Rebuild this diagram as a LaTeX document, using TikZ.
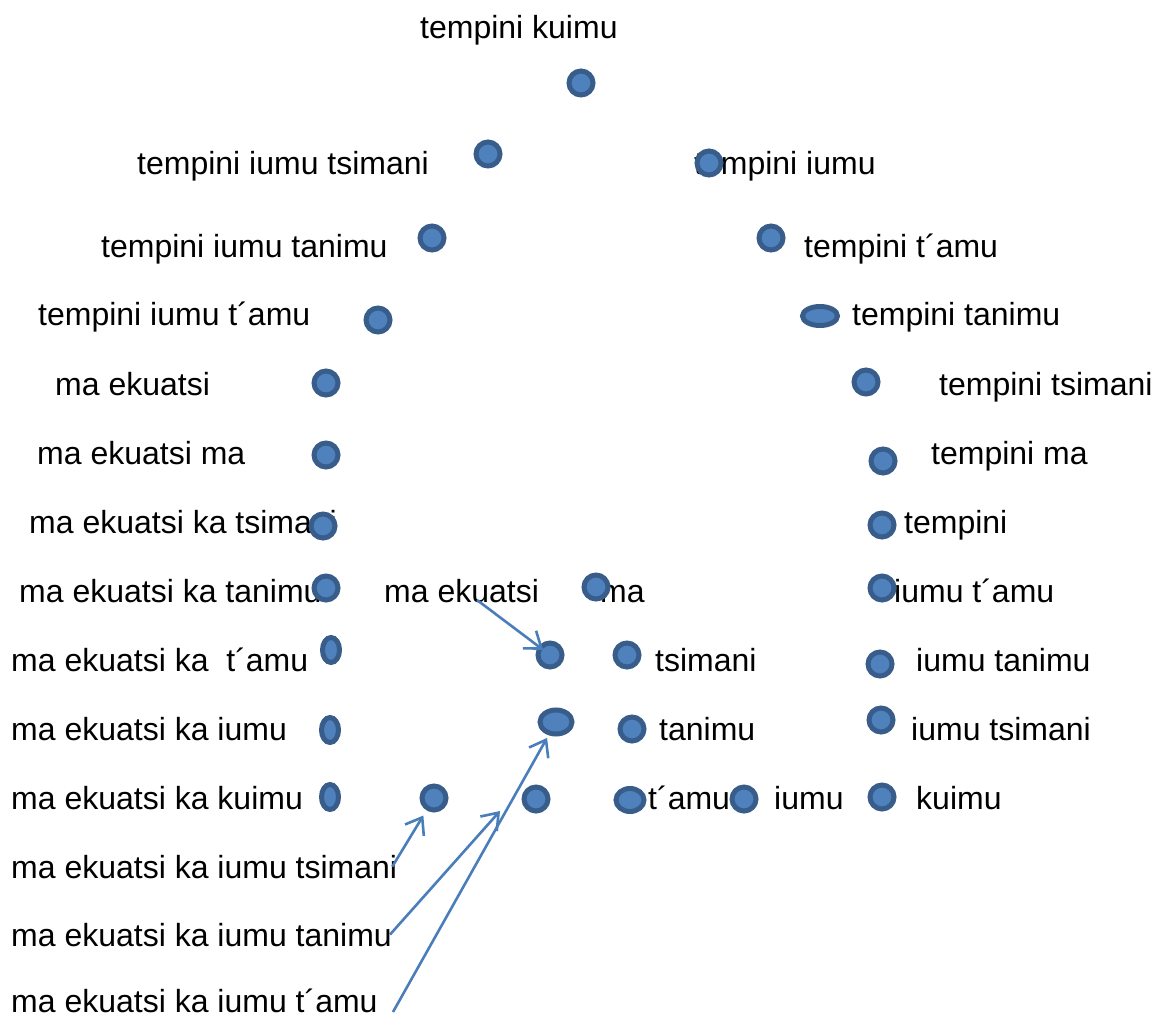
\documentclass[tikz,border=0pt]{standalone}
\usepackage{fontspec}
\setmainfont{Liberation Sans}
\usetikzlibrary{shapes.geometric,arrows.meta}
\definecolor{beadfill}{HTML}{4F81BD}
\definecolor{beadline}{HTML}{385D8A}
\definecolor{linkline}{HTML}{4A7EBB}

\begin{document}
\begin{tikzpicture}[x=1pt,y=-1pt,
    word/.style={anchor=base west,inner sep=0pt,font=\fontsize{32}{38}\selectfont},
    bead/.style={circle,draw=beadline,fill=beadfill,line width=5pt,inner sep=0pt,minimum size=24pt},
    beadwide/.style={bead,ellipse,minimum width=35pt,minimum height=19pt},
    beadtall/.style={bead,ellipse,minimum width=17pt,minimum height=25pt},
    link/.style={draw=linkline,line width=2.6pt,-{Straight Barb[length=15pt,width=22pt,line width=2.6pt]}}]
    \useasboundingbox (0,0) rectangle (1160,1019);
    \node[word] (tk)  at (420,39)   {tempini kuimu};
    \node[word] (l1)  at (137,175)  {tempini iumu tsimani};
    \node[word] (l2)  at (101,258)  {tempini iumu tanimu};
    \node[word] (l3)  at (38,326)   {tempini iumu t´amu};
    \node[word] (l4)  at (55,395)   {ma ekuatsi};
    \node[word] (l5)  at (37,464)   {ma ekuatsi ma};
    \node[word] (l6)  at (29,533)   {ma ekuatsi ka tsimani};
    \node[word] (l7)  at (19,602)   {ma ekuatsi ka tanimu};
    \node[word] (l8)  at (11,671)   {ma ekuatsi ka~ t´amu};
    \node[word] (l9)  at (11,740)   {ma ekuatsi ka iumu};
    \node[word] (l10) at (11,809)   {ma ekuatsi ka kuimu};
    \node[word] (l11) at (11,878)   {ma ekuatsi ka iumu tsimani};
    \node[word] (l12) at (11,946)   {ma ekuatsi ka iumu tanimu};
    \node[word] (l13) at (11,1012)  {ma ekuatsi ka iumu t´amu};
    \node[word] (r1)  at (694,175)  {tempini iumu};
    \node[word] (r2)  at (804,258)  {tempini t´amu};
    \node[word] (r3)  at (852,326)  {tempini tanimu};
    \node[word] (r4)  at (939,395)  {tempini tsimani};
    \node[word] (r5)  at (931,464)  {tempini ma};
    \node[word] (r6)  at (904,533)  {tempini};
    \node[word] (r7)  at (894,602)  {iumu t´amu};
    \node[word] (r8)  at (916,671)  {iumu tanimu};
    \node[word] (r9)  at (911,740)  {iumu tsimani};
    \node[word] (r10) at (916,809)  {kuimu};
    \node[word] (m1)  at (384,602)  {ma ekuatsi};
    \node[word] (m2)  at (600,602)  {ma};
    \node[word] (m3)  at (655,671)  {tsimani};
    \node[word] (m4)  at (659,740)  {tanimu};
    \node[word] (m5)  at (648,809)  {t´amu};
    \node[word] (m6)  at (774,809)  {iumu};
    \node[bead] (dtk) at (581,83) {};
    \node[bead] (dl1) at (488,154) {};
    \node[bead] (dl2) at (432,238) {};
    \node[bead] (dl3) at (378,320) {};
    \node[bead] (dl4) at (326,383) {};
    \node[bead] (dl5) at (326,455) {};
    \node[bead] (dl6) at (323,526) {};
    \node[bead] (dl7) at (326,588) {};
    \node[beadtall] (dl8)  at (331,650) {};
    \node[beadtall] (dl9)  at (330,730) {};
    \node[beadtall] (dl10) at (330,797) {};
    \node[bead] (dr1) at (709,163) {};
    \node[bead] (dr2) at (771,238) {};
    \node[beadwide] (dr3) at (820,316) {};
    \node[bead] (dr4) at (866,382) {};
    \node[bead] (dr5) at (883,461) {};
    \node[bead] (dr6) at (882,525) {};
    \node[bead] (dr7) at (882,588) {};
    \node[bead] (dr8) at (880,664) {};
    \node[bead] (dr9) at (881,720) {};
    \node[bead] (dr10) at (882,797) {};
    \node[bead] (dm1) at (596,587) {};
    \node[bead] (dm2) at (550,655) {};
    \node[bead] (dm3) at (627,655) {};
    \node[beadwide,minimum width=32pt,minimum height=24pt] (dm4) at (556,722) {};
    \node[bead] (dm5) at (632,729) {};
    \node[bead] (dm6) at (434,798) {};
    \node[bead] (dm7) at (536,799) {};
    \node[beadwide,minimum width=28pt,minimum height=23pt] (dm8) at (630,800) {};
    \node[bead] (dm9) at (744,799) {};
    \coordinate (a1) at (477,600);
    \coordinate (a3) at (500,811);
    \coordinate (a4) at (393,1012);
    \draw[link,shorten >=-6pt] (a1) -- (dm2);
    \draw[link,shorten >=6pt] ([xshift=-5pt]l11.east) -- (dm6);
    \draw[link] ([xshift=-2pt]l12.east) -- (a3);
    \draw[link,shorten >=3pt] (a4) -- (dm4);
  \end{tikzpicture}
\end{document}
